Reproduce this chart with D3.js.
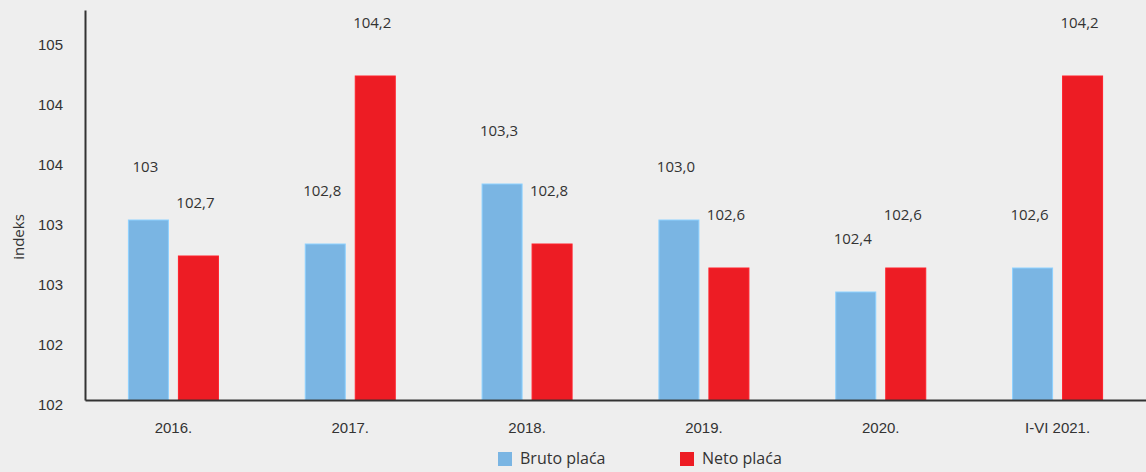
<!DOCTYPE html>
<html>
<head>
<meta charset="utf-8">
<script src="https://cdn.jsdelivr.net/npm/d3@7"></script>
<style>
  html, body { margin: 0; padding: 0; background: #eeeeee; }
  svg { display: block; font-family: "Open Sans", "Noto Sans", sans-serif; }
</style>
</head>
<body>
<div id="chart"></div>
<script>
const WIDTH = 1146;
const HEIGHT = 472;

const categories = ["2016.", "2017.", "2018.", "2019.", "2020.", "I-VI 2021."];
const bruto = [103.0, 102.8, 103.3, 103.0, 102.4, 102.6];
const neto = [102.7, 104.2, 102.8, 102.6, 102.6, 104.2];
const brutoLabels = ["103", "102,8", "103,3", "103,0", "102,4", "102,6"];
const netoLabels = ["102,7", "104,2", "102,8", "102,6", "102,6", "104,2"];
const yTicks = [101.5, 102, 102.5, 103, 103.5, 104, 104.5];
const seriesNames = ["Bruto plaća", "Neto plaća"];
const seriesColors = ["#7ab5e3", "#ed1c24"];

const margin = {top: 10, right: 0, bottom: 72, left: 85};

const svg = d3.select("#chart")
    .append("svg")
    .attr("width", WIDTH)
    .attr("height", HEIGHT);

const x = d3.scaleBand()
    .domain(categories)
    .range([margin.left, WIDTH - margin.right])
    .padding(0);

const y = d3.scaleLinear()
    .domain([101.5, 104.75])
    .range([HEIGHT - margin.bottom, margin.top]);

const series = [
    {name: seriesNames[0], values: bruto, labels: brutoLabels, color: seriesColors[0], offset: -25},
    {name: seriesNames[1], values: neto, labels: netoLabels, color: seriesColors[1], offset: 25}
];
const BAR_W = 40;

// bars + value labels
series.forEach(s => {
    svg.selectAll(null)
        .data(categories)
        .enter()
        .append("rect")
        .attr("x", d => x(d) + x.bandwidth() / 2 + s.offset - BAR_W / 2)
        .attr("y", (d, i) => y(s.values[i]))
        .attr("width", BAR_W)
        .attr("height", (d, i) => y.range()[0] - y(s.values[i]))
        .attr("fill", s.color)
        .attr("stroke", d3.color(s.color).brighter(0.4))
        .attr("stroke-width", 1);

    svg.selectAll(null)
        .data(categories)
        .enter()
        .append("text")
        .attr("x", d => x(d) + x.bandwidth() / 2 + s.offset - 3)
        .attr("y", (d, i) => y(s.values[i]) - 48)
        .attr("text-anchor", "middle")
        .attr("font-size", 15)
        .attr("fill", "#333")
        .text((d, i) => s.labels[i]);
});

// y axis
const yAxis = svg.append("g")
    .attr("transform", `translate(${margin.left},0)`)
    .call(d3.axisLeft(y).tickValues(yTicks).tickSize(0).tickPadding(22)
        .tickFormat(d => String(Math.round(d))));
yAxis.select(".domain").attr("stroke", "#333").attr("stroke-width", 2);
yAxis.selectAll("text")
    .attr("font-size", 15)
    .attr("fill", "#333")
    .attr("dy", "0.6em")
    .attr("font-family", "inherit");

// x axis
const xAxis = svg.append("g")
    .attr("transform", `translate(0,${y.range()[0]})`)
    .call(d3.axisBottom(x).tickSize(0).tickPadding(22));
xAxis.select(".domain").attr("stroke", "#333").attr("stroke-width", 2);
xAxis.selectAll("text")
    .attr("font-size", 15)
    .attr("fill", "#333")
    .attr("font-family", "inherit");

svg.append("text")
    .attr("transform", "translate(24,237) rotate(-90)")
    .attr("text-anchor", "middle")
    .attr("font-size", 15)
    .attr("fill", "#333")
    .text("indeks");

// legend
const legend = svg.append("g")
    .attr("transform", "translate(498,452)");
const item = legend.selectAll("g")
    .data(series)
    .enter()
    .append("g")
    .attr("transform", (d, i) => `translate(${i * 182},0)`);
item.append("rect")
    .attr("width", 14)
    .attr("height", 14)
    .attr("fill", d => d.color);
item.append("text")
    .attr("x", 22)
    .attr("y", 12)
    .attr("font-size", 16)
    .attr("fill", "#333")
    .text(d => d.name);
</script>
</body>
</html>
